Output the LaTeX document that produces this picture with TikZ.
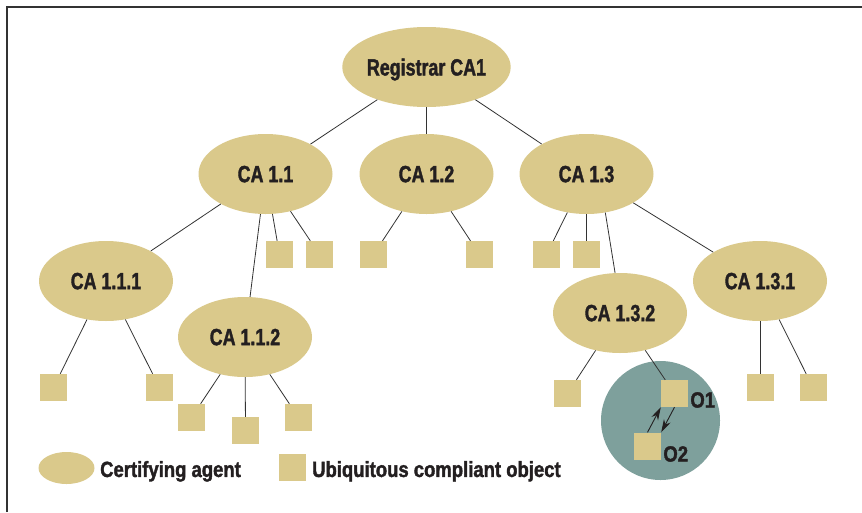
\documentclass[tikz,border=0pt]{standalone}
\usepackage{fontspec}
\setmainfont{Liberation Sans}[FakeStretch=0.76,BoldFeatures={FakeBold=1.6}]
\newfontfamily\legendfont{Liberation Sans}[FakeStretch=0.84,BoldFeatures={FakeBold=1.6}]
\usepackage{tikz}
\usetikzlibrary{arrows.meta}
\usetikzlibrary{shapes.geometric}
\definecolor{catan}{HTML}{DAC98B}
\definecolor{zone}{HTML}{7EA09C}
\definecolor{ink}{HTML}{231F20}
\definecolor{wire}{HTML}{333333}

\begin{document}
\begin{tikzpicture}[x=1pt,y=-1pt,node distance=160pt,
	ca/.style={ellipse,fill=catan,minimum width=134pt,minimum height=80pt,inner sep=0pt,text=ink,text depth=0pt,font=\fontsize{23.5}{23.5}\selectfont\bfseries},
	obj/.style={rectangle,fill=catan,minimum size=27pt,inner sep=0pt},
	tag/.style={text=ink,inner sep=0pt,text depth=0pt,font=\legendfont\fontsize{22}{22}\selectfont\bfseries},
	handover/.style={draw=ink,line width=0.9pt,-{Stealth[length=13pt,width=7.5pt]}},
	every edge/.style={draw=wire,line width=0.8pt}]
	\useasboundingbox (0,0) rectangle (862,512);
	\draw[wire,line width=2pt] (7,512) -- (7,7) -- (862,7);
	% the pair of objects
	\fill[zone] (660.5,420.5) circle (59.5pt);
	% certifying agents
	\node[ca] (reg) at (426.5,67) {Registrar CA1};
	\node[ca] (ca12) [node distance=107pt, below of = reg] {CA 1.2};
	\node[ca] (ca11) [node distance=161pt, left of = ca12] {CA 1.1};
	\node[ca] (ca13) [right of = ca12] {CA 1.3};
	\node[ca] (ca111) at (106,281) {CA 1.1.1};
	\node[ca] (ca112) at (245,337) {CA 1.1.2};
	\node[ca] (ca132) at (620,313) {CA 1.3.2};
	\node[ca] (ca131) at (760,281) {CA 1.3.1};
	% objects
	\node[obj] (u11a) at (279.5,254.5) {};
	\node[obj] (u11b) [node distance=40pt, right of = u11a] {};
	\node[obj] (u12a) at (373.5,254.5) {};
	\node[obj] (u12b) [node distance=106pt, right of = u12a] {};
	\node[obj] (u13a) at (546.5,254.5) {};
	\node[obj] (u13b) [node distance=40pt, right of = u13a] {};
	\node[obj] (u111a) at (53.5,387.5) {};
	\node[obj] (u111b) [node distance=106pt, right of = u111a] {};
	\node[obj] (u112a) at (191.5,417.5) {};
	\node[obj] (u112b) at (245.5,430.5) {};
	\node[obj] (u112c) [node distance=107pt, right of = u112a] {};
	\node[obj] (u132) at (567.5,393.5) {};
	\node[obj] (o1) at (674.5,393.5) {};
	\node[obj] (o2) at (647.5,446) {};
	\node[obj] (u131a) at (760,387.5) {};
	\node[obj] (u131b) [node distance=53pt, right of = u131a] {};
	\node[tag, anchor=north west] (t1) at ([xshift=2pt,yshift=1.5pt]o1.east) {O1};
	\node[tag, anchor=north west] (t2) at ([xshift=2pt]o2.east) {O2};
	\path	(reg) edge (ca11)
			(reg) edge (ca12)
			(reg) edge (ca13)
			(ca11) edge (ca111)
			(ca11) edge (ca112)
			(ca11) edge (u11a)
			(ca11) edge (u11b)
			(ca12) edge (u12a)
			(ca12) edge (u12b)
			(ca13) edge (u13a)
			(ca13) edge (u13b)
			(ca13.-64) edge (ca132.97)
			(ca13) edge (ca131)
			(ca111) edge (u111a)
			(ca111) edge (u111b)
			(ca112) edge (u112a)
			(ca112) edge (u112b)
			(ca112) edge (u112c)
			(ca132) edge (u132)
			(ca132) edge (o1)
			(ca131) edge (u131a)
			(ca131) edge (u131b);
	\draw[handover] (o2.north) -- (o1.south west);
	\draw[handover] (o1.south) -- (o2.north east);
	% legend
	\node[ca, minimum width=56pt, minimum height=32pt] (legca) at (66.5,468) {};
	\node[tag, anchor=west] (legcatext) at (100,469) {Certifying agent};
	\node[obj] (legobj) at (292,467.5) {};
	\node[tag, anchor=west] (legobjtext) at (312,469) {Ubiquitous compliant object};
\end{tikzpicture}
\end{document}
